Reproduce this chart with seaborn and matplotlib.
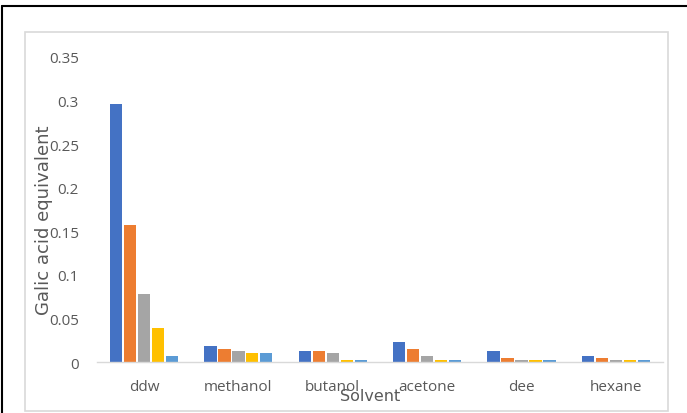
import matplotlib
matplotlib.use("Agg")
import matplotlib.pyplot as plt
from matplotlib.lines import Line2D
from matplotlib.patches import Rectangle
import pandas as pd
import seaborn as sns

solvents = ["ddw", "methanol", "butanol", "acetone", "dee", "hexane"]
series_names = ["Series1", "Series2", "Series3", "Series4", "Series5"]
series1 = [0.296, 0.019, 0.0125, 0.023, 0.0125, 0.0065]
series2 = [0.157, 0.0145, 0.0125, 0.0145, 0.0042, 0.005]
series3 = [0.078, 0.0125, 0.0105, 0.0065, 0.0025, 0.0025]
series4 = [0.039, 0.0105, 0.0025, 0.0025, 0.0025, 0.0025]
series5 = [0.0065, 0.0105, 0.0025, 0.0025, 0.0025, 0.0025]
yticks = [0, 0.05, 0.1, 0.15, 0.2, 0.25, 0.3, 0.35]
ytick_labels = ["0", "0.05", "0.1", "0.15", "0.2", "0.25", "0.3", "0.35"]
palette = ["#4472C4", "#ED7D31", "#A5A5A5", "#FFC000", "#5B9BD5"]

rows = []
for name, vals in zip(series_names, [series1, series2, series3, series4, series5]):
    for s, v in zip(solvents, vals):
        rows.append({"Solvent": s, "Series": name, "Value": v})
df = pd.DataFrame(rows)

sns.set_style("white")
plt.rcParams["font.family"] = ["Open Sans", "DejaVu Sans"]

fig = plt.figure(figsize=(6.87, 4.14), dpi=100)
ax = fig.add_axes([0.141, 0.123, 0.824, 0.737])

sns.barplot(data=df, x="Solvent", y="Value", hue="Series", palette=palette,
            width=0.74, gap=0.12, saturation=1, ax=ax, legend=False,
            edgecolor="none")

ax.set_ylim(0, 0.35)
ax.set_xlim(-0.5, len(solvents) - 0.5)
ax.set_yticks(yticks)
ax.set_yticklabels(ytick_labels)

text_color = "#595959"
ax.tick_params(axis="both", length=0, labelsize=11, labelcolor=text_color)
ax.tick_params(axis="y", pad=13)
ax.tick_params(axis="x", pad=12)

for side in ["top", "right", "left"]:
    ax.spines[side].set_visible(False)
ax.spines["bottom"].set_color("#D9D9D9")
ax.spines["bottom"].set_linewidth(1.0)

ax.set_xlabel("Solvent", fontsize=11.5, color=text_color, family="DejaVu Sans")
ax.set_ylabel("Galic acid equivalent", fontsize=13, color=text_color, family="DejaVu Sans")
ax.xaxis.set_label_coords(0.482, -0.085)
ax.yaxis.set_label_coords(-0.078, 0.469)

# chart area frame and outer border
fig.add_artist(Rectangle((25 / 687, 1 - 412 / 414), (668 - 25) / 687, (412 - 33) / 414,
                         transform=fig.transFigure, fill=False,
                         edgecolor="#D9D9D9", linewidth=1.2))
fig.add_artist(Line2D([2 / 687, 1.0], [1 - 7 / 414, 1 - 7 / 414],
                      transform=fig.transFigure, color="black", linewidth=1.5))
fig.add_artist(Line2D([2 / 687, 2 / 687], [0, 1 - 7 / 414],
                      transform=fig.transFigure, color="black", linewidth=1.5))

fig.savefig("out.png", dpi=100)
